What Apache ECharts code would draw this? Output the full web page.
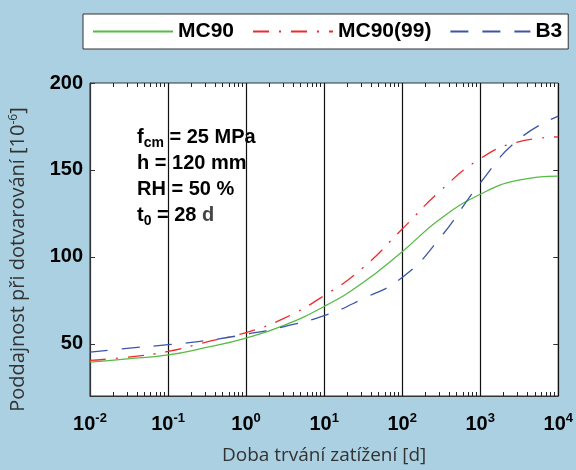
<!DOCTYPE html>
<html>
<head>
<meta charset="utf-8">
<script src="https://cdn.jsdelivr.net/npm/echarts@6/dist/echarts.min.js"></script>
<style>
  html, body { margin: 0; padding: 0; background: #aad0e2; }
  #chart { width: 576px; height: 470px; }
</style>
</head>
<body>
<div id="chart"></div>
<script>
// load duration [d]
const days = [0.01, 0.03, 0.1, 0.3, 1, 3, 10, 30, 100, 300, 1000, 3000, 10000]

// creep compliance [1e-6]
const mc90 = [39.5, 41.3, 43.6, 47.8, 53.3, 60.5, 71.5, 84.5, 103, 121.5, 136, 144, 146.5]
const mc90_99 = [40.5, 42.3, 45.6, 50.9, 56.5, 64.5, 77.7, 93, 116, 137.5, 156.5, 166, 169]
const b3 = [45.2, 47.4, 49.5, 51.8, 55.5, 59.8, 66.2, 75.5, 88.2, 110.5, 142.5, 167, 181]

const seriesNames = ['MC90', 'MC90(99)', 'B3']
const yTicks = [50, 100, 150, 200]
const yTicksRight = [50, 100, 150]

// minor ticks 2..9 per decade
const minorTicks = []
for (let e = -2; e < 4; e++) {
  for (let k = 2; k <= 9; k++) minorTicks.push(k * Math.pow(10, e))
}

const boldFont = '"Liberation Sans", Arial, sans-serif'
const titleFont = '"Open Sans", "Noto Sans", sans-serif'

const chart = echarts.init(document.getElementById('chart'))

const pairs = (ys) => days.map((d, i) => [d, ys[i]])

const logAxisBase = {
  type: 'log',
  logBase: 10,
  min: 0.01,
  max: 10000,
  interval: 1
}

const option = {
  backgroundColor: '#aad0e2',
  animation: false,
  grid: {
    left: 90, right: 17, top: 83, bottom: 73,
    show: true,
    backgroundColor: '#fff',
    borderColor: '#333',
    borderWidth: 1
  },
  legend: {
    left: 83, top: 14,
    padding: [7, 6, 7, 9],
    backgroundColor: '#fff',
    borderColor: '#333',
    borderWidth: 1,
    borderRadius: 0,
    itemWidth: 80,
    itemHeight: 14,
    itemGap: 18,
    itemStyle: { opacity: 0 },
    data: seriesNames,
    textStyle: { fontSize: 21, fontWeight: 'bold', color: '#000', fontFamily: boldFont }
  },
  xAxis: [{
    ...logAxisBase,
    name: 'Doba trvání zatížení [d]',
    nameLocation: 'middle',
    nameGap: 50,
    nameTextStyle: { fontSize: 19, color: '#333', fontFamily: titleFont },
    axisLine: { show: true, lineStyle: { color: '#333', width: 1 } },
    axisTick: { show: true, inside: true, length: 4, customValues: minorTicks, lineStyle: { color: '#222' } },
    splitLine: { show: false },
    axisLabel: {
      margin: 16,
      formatter: (v) => '{b|10}{sup|' + Math.round(Math.log10(v)) + '}',
      rich: {
        b: { fontSize: 20, fontWeight: 'bold', color: '#000', fontFamily: boldFont, lineHeight: 24 },
        sup: { fontSize: 13, fontWeight: 'bold', color: '#000', fontFamily: boldFont, verticalAlign: 'top', lineHeight: 8 }
      }
    }
  }, {
    ...logAxisBase,
    position: 'top',
    axisLine: { show: false },
    axisTick: { show: true, inside: true, length: 4, customValues: minorTicks, lineStyle: { color: '#222' } },
    splitLine: { show: false },
    axisLabel: { show: false }
  }, {
    // decade grid lines only
    ...logAxisBase,
    position: 'bottom',
    axisLine: { show: false },
    axisTick: { show: false },
    axisLabel: { show: false },
    splitLine: { show: true, lineStyle: { color: '#111', width: 1.2 } }
  }],
  yAxis: [{
    type: 'value',
    min: 20,
    max: 200,
    name: 'Poddajnost při dotvarování [10{sup|-6}]',
    nameLocation: 'middle',
    nameGap: 62,
    nameTextStyle: {
      fontSize: 20, color: '#333', fontFamily: titleFont, padding: [0, 40, 0, 0],
      rich: { sup: { fontSize: 12, color: '#333', fontFamily: titleFont, verticalAlign: 'top', lineHeight: 10 } }
    },
    axisLine: { show: true, lineStyle: { color: '#333', width: 1 } },
    axisTick: { show: true, inside: true, length: 5, customValues: yTicks, lineStyle: { color: '#333' } },
    splitLine: { show: false },
    axisLabel: {
      customValues: yTicks,
      margin: 7,
      fontSize: 20, fontWeight: 'bold', color: '#000', fontFamily: boldFont
    }
  }, {
    type: 'value',
    position: 'right',
    min: 20,
    max: 200,
    axisLine: { show: false },
    axisTick: { show: true, inside: true, length: 5, customValues: yTicksRight, lineStyle: { color: '#333' } },
    splitLine: { show: false },
    axisLabel: { show: false }
  }],
  graphic: [{
    type: 'text',
    left: 137,
    top: 127,
    style: {
      text: '{b|f}{s|cm}{b| = 25 MPa}\n{b|h = 120 mm}\n{b|RH = 50 %}\n{b|t}{s|0}{b| = 28 }{d|d}',
      rich: {
        b: { fontSize: 20, fontWeight: 'bold', fill: '#000', fontFamily: boldFont, lineHeight: 26 },
        s: { fontSize: 14, fontWeight: 'bold', fill: '#000', fontFamily: boldFont, verticalAlign: 'bottom', lineHeight: 12 },
        d: { fontSize: 20, fontWeight: 'bold', fill: '#444', fontFamily: boldFont, lineHeight: 26 }
      }
    }
  }],
  series: [{
    name: seriesNames[0],
    type: 'line',
    smooth: true,
    symbol: 'none',
    data: pairs(mc90),
    lineStyle: { color: '#55bb44', width: 1.3 },
    itemStyle: { color: '#55bb44' }
  }, {
    name: seriesNames[1],
    type: 'line',
    smooth: true,
    symbol: 'none',
    data: pairs(mc90_99),
    lineStyle: { color: '#ee2b2b', width: 1.3, type: [16, 10, 2, 10] },
    itemStyle: { color: '#ee2b2b' }
  }, {
    name: seriesNames[2],
    type: 'line',
    smooth: true,
    symbol: 'none',
    data: pairs(b3),
    lineStyle: { color: '#3b55a8', width: 1.3, type: [18, 14] },
    itemStyle: { color: '#3b55a8' }
  }]
}

chart.setOption(option)
</script>
</body>
</html>
